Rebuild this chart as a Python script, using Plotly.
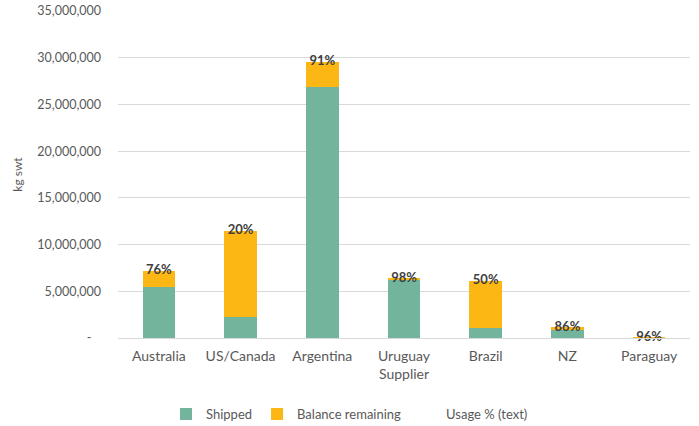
import plotly.graph_objects as go

suppliers = ["Australia", "US/Canada", "Argentina", "Uruguay", "Brazil", "NZ", "Paraguay"]
shipped = [5460000, 2280000, 26900000, 6240000, 1100000, 960000, 20000]
balance = [1710000, 9180000, 2650000, 150000, 5030000, 190000, 1000]
usage_text = ["76%", "20%", "91%", "98%", "50%", "86%", "96%"]
y_ticks = [0, 5000000, 10000000, 15000000, 20000000, 25000000, 30000000, 35000000]
y_ticktext = ["-\u00a0\u00a0\u00a0"] + [f"{v:,}" for v in y_ticks[1:]]

totals = [s + b for s, b in zip(shipped, balance)]

GREEN = "#73B49C"
ORANGE = "#FCB715"
FONT = "Lato, 'Open Sans', sans-serif"

fig = go.Figure()
fig.add_trace(go.Bar(x=suppliers, y=shipped, name="Shipped", marker=dict(color=GREEN, line=dict(width=0))))
fig.add_trace(go.Bar(x=suppliers, y=balance, name="Balance remaining", marker=dict(color=ORANGE, line=dict(width=0))))
fig.add_trace(go.Scatter(x=suppliers, y=totals, mode="text", text=usage_text,
                         textposition="middle center", showlegend=False, cliponaxis=False,
                         textfont=dict(family=FONT, size=13, color="#404040", weight="bold")))
fig.add_trace(go.Scatter(x=[suppliers[0]], y=[None], mode="lines", name="Usage % (text)",
                         line=dict(width=0, color="rgba(0,0,0,0)")))

fig.update_layout(
    width=699, height=426,
    barmode="stack", bargap=0.6,
    plot_bgcolor="white", paper_bgcolor="white",
    margin=dict(l=118, r=9, t=11, b=88, autoexpand=False),
    font=dict(family=FONT, size=12, color="#595959"),
    legend=dict(orientation="h", xref="container", x=0.5, xanchor="center",
                yref="container", y=0.028, yanchor="middle",
                font=dict(size=13, color="#595959"), itemwidth=30, traceorder="normal"),
    xaxis=dict(title=dict(text="Supplier", font=dict(size=14), standoff=6), automargin=True,
               showline=True, linecolor="#D9D9D9", ticks="", tickfont=dict(size=14),
               ticklabelstandoff=5),
    yaxis=dict(title=dict(text="kg swt", font=dict(size=12), standoff=12), automargin=True,
               range=[0, 35000000], tickvals=y_ticks, ticktext=y_ticktext,
               showgrid=True, gridcolor="#D9D9D9", zeroline=False, showline=False,
               ticklabelstandoff=16, tickfont=dict(size=12.5)),
)

fig.write_html("out.html", config={"displayModeBar": False},
               post_script="document.body.style.margin='0';document.body.style.overflow='hidden';")
